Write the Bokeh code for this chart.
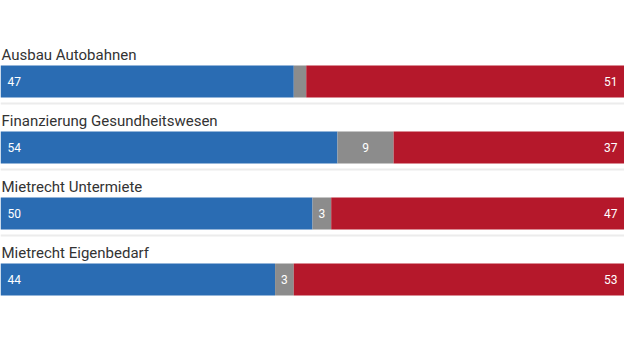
from bokeh.plotting import figure
from bokeh.models import Range1d, ColumnDataSource
from bokeh.core.properties import value
from bokeh.embed import file_html
from bokeh.resources import INLINE

topics = ["Ausbau Autobahnen", "Finanzierung Gesundheitswesen",
          "Mietrecht Untermiete", "Mietrecht Eigenbedarf"]
yes_vals = [47, 54, 50, 44]
neutral_vals = [2, 9, 3, 3]
no_vals = [51, 37, 47, 53]

W, H = 624, 344
first_center = 81
spacing = 66
bar_h = 32

centers = [first_center + i * spacing for i in range(len(topics))]

p = figure(width=W, height=H, output_backend="svg", toolbar_location=None,
           x_range=Range1d(0, 100), y_range=Range1d(H, 0),
           min_border=0, min_border_left=0, min_border_right=0,
           min_border_top=0, min_border_bottom=0)
p.axis.visible = False
p.grid.visible = False
p.outline_line_color = None
p.background_fill_color = "white"
p.border_fill_color = "white"

left_n = yes_vals
right_n = [a + b for a, b in zip(yes_vals, neutral_vals)]
total = [a + b + c for a, b, c in zip(yes_vals, neutral_vals, no_vals)]

src = ColumnDataSource(dict(
    y=centers, yes=yes_vals, neu_l=left_n, neu_r=right_n, tot=total,
    topic=topics,
    lab_y=[c - bar_h / 2 - 11 for c in centers],
))

BLUE = "#2a6cb3"
GREY = "#8c8c8c"
RED = "#b5182b"

p.hbar(y="y", left=0, right="yes", height=bar_h, fill_color=BLUE, line_color=None, source=src)
p.hbar(y="y", left="neu_l", right="neu_r", height=bar_h, fill_color=GREY, line_color=None, source=src)
p.hbar(y="y", left="neu_r", right="tot", height=bar_h, fill_color=RED, line_color=None, source=src)

# separators between rows
sep_y = [c + bar_h / 2 + 6 for c in centers[:-1]]
p.segment(x0=0, x1=100, y0=sep_y, y1=sep_y, line_color="#ececec", line_width=2)

# topic labels
p.text(x=0, y="lab_y", text="topic", source=src, text_font=value("Roboto"),
       text_font_size="15px", text_color="#333333", text_baseline="alphabetic",
       text_align="left", x_offset=1)

font = value("Roboto")
p.text(x=0, y=centers, text=[str(v) for v in yes_vals], text_font=font,
       text_font_size="12px", text_color="white", text_baseline="middle",
       text_align="left", x_offset=7)
p.text(x=total, y=centers, text=[str(v) for v in no_vals], text_font=font,
       text_font_size="12px", text_color="white", text_baseline="middle",
       text_align="right", x_offset=-7)
mid = [(a + b) / 2 for a, b in zip(left_n, right_n)]
gx = [m for m, v in zip(mid, neutral_vals) if v >= 3]
gy = [c for c, v in zip(centers, neutral_vals) if v >= 3]
gt = [str(v) for v in neutral_vals if v >= 3]
p.text(x=gx, y=gy, text=gt, text_font=font, text_font_size="12px",
       text_color="white", text_baseline="middle", text_align="center")

open("out.html", "w").write(file_html(p, INLINE))
